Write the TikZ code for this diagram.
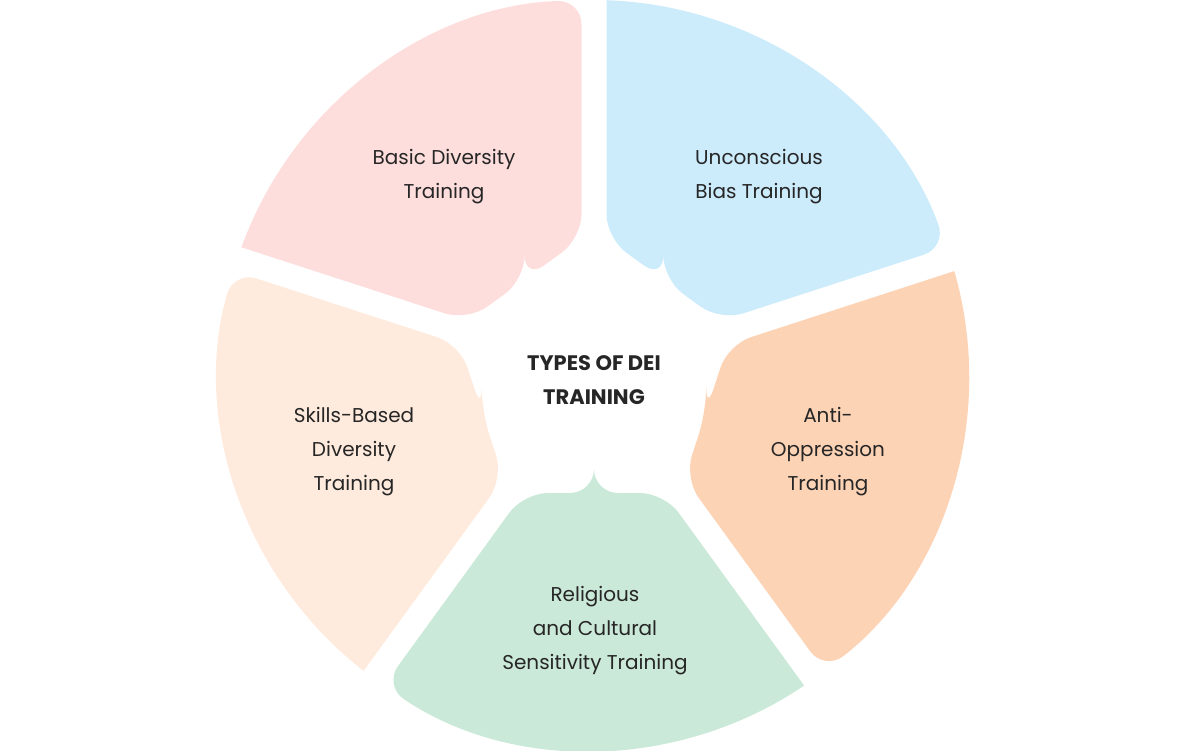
\documentclass[tikz,border=0pt]{standalone}
\usepackage{fontspec}
\setmainfont{Poppins}
\definecolor{cpink}{HTML}{FDDEDC}
\definecolor{cblue}{HTML}{CCEBFB}
\definecolor{corange}{HTML}{FDD3B5}
\definecolor{cgreen}{HTML}{CBE9D8}
\definecolor{cpeach}{HTML}{FFEBDD}
\begin{document}
\begin{tikzpicture}[x=1pt,y=1pt,
  lbl/.style={align=center,font=\fontsize{20}{34}\selectfont,text=black!85}]
\useasboundingbox (-594,-375) rectangle (594,375);
\foreach \ang/\col in {126/cpink,54/cblue,-18/corange,-90/cgreen,198/cpeach}{
  \begin{scope}[rotate=\ang]
  \fill[\col,rounded corners=24pt] (118,0) -- (118,-70.28) -- (310.56,-210.19)
    [rounded corners=0pt] arc[start angle=-34.09,end angle=34.09,radius=375]
    [rounded corners=24pt] -- (118,70.28) -- (118,0) -- cycle;
  \end{scope}
}
\node[lbl] (a) at (-150,198) {Basic Diversity\\Training};
\node[lbl] (b) at (165,198) {Unconscious\\Bias Training};
\node[lbl] (c) at (234,-77) {Anti-\\Oppression\\Training};
\node[lbl] (d) at (1,-256) {Religious\\and Cultural\\Sensitivity Training};
\node[lbl] (e) at (-240,-77) {Skills-Based\\Diversity\\Training};
\node[lbl,font=\fontsize{21}{34}\selectfont\bfseries] (m) at (0,-5) {TYPES OF DEI\\TRAINING};
\end{tikzpicture}
\end{document}
